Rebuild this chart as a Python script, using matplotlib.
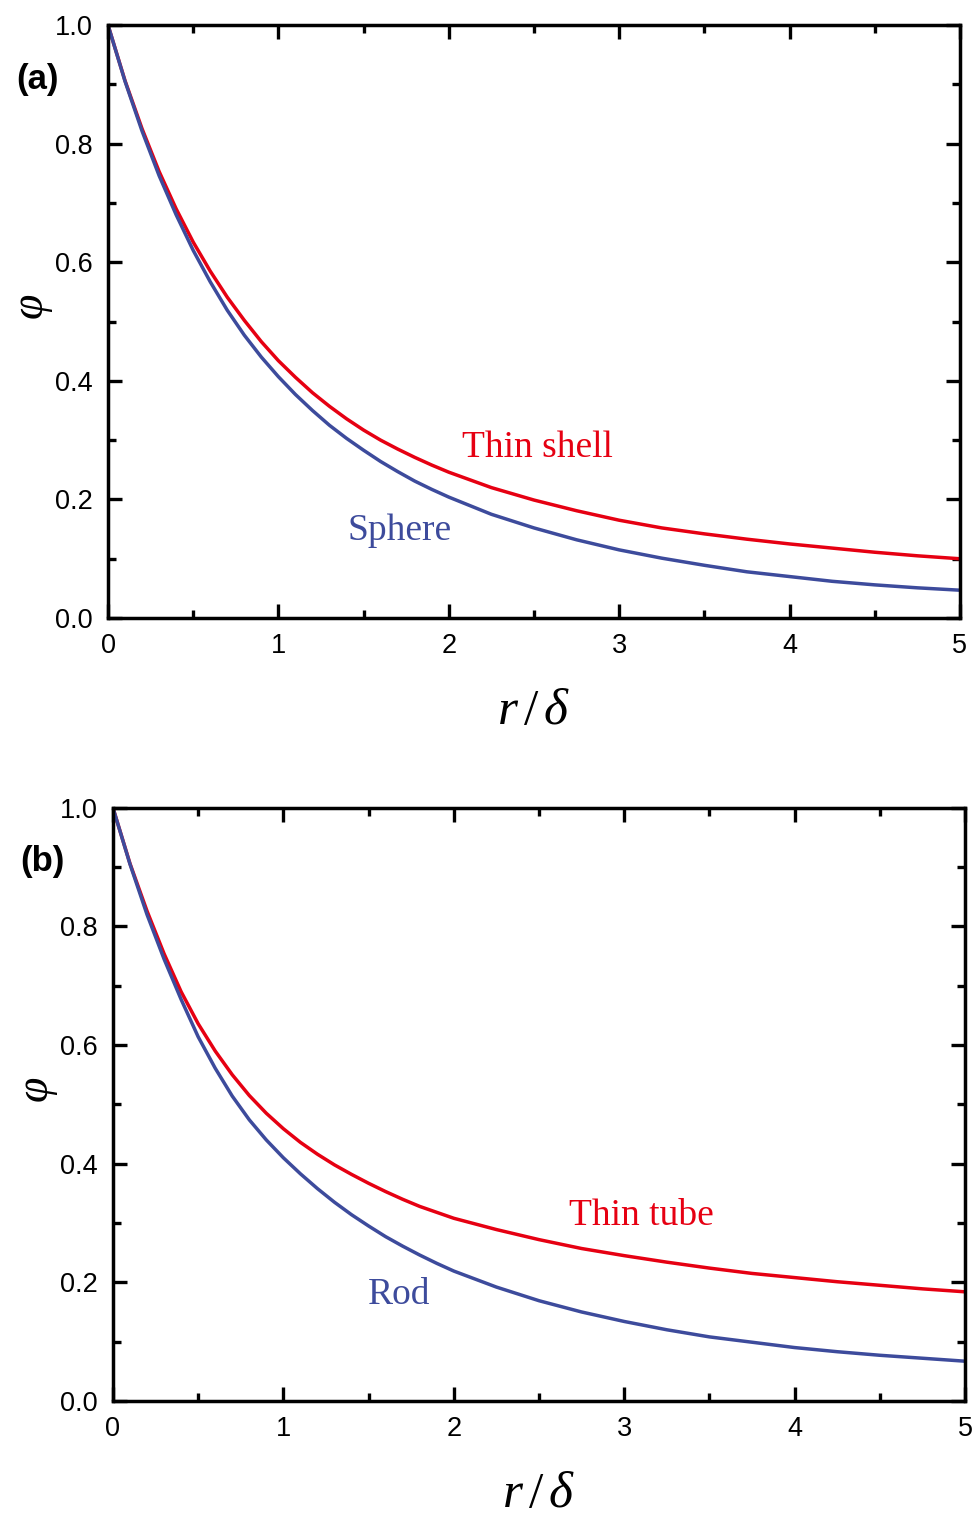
import matplotlib
matplotlib.use("Agg")
import matplotlib.pyplot as plt
from matplotlib.ticker import MultipleLocator, FormatStrFormatter

plt.rcParams['font.family'] = ['Liberation Sans', 'DejaVu Sans']
plt.rcParams['mathtext.fontset'] = 'custom'
plt.rcParams['mathtext.rm'] = 'Liberation Serif'
plt.rcParams['mathtext.it'] = 'Liberation Serif:italic'

# values
r_delta = [0, 0.1, 0.2, 0.3, 0.4, 0.5, 0.6, 0.7, 0.8, 0.9, 1.0, 1.1, 1.2, 1.3,
           1.4, 1.5, 1.6, 1.7, 1.8, 1.9, 2.0, 2.25, 2.5, 2.75, 3.0, 3.25, 3.5,
           3.75, 4.0, 4.25, 4.5, 4.75, 5.0]

# panel (a)
sphere = [1.0, 0.905, 0.821, 0.746, 0.680, 0.620, 0.567, 0.519, 0.477, 0.440,
          0.407, 0.377, 0.350, 0.325, 0.303, 0.283, 0.264, 0.247, 0.231, 0.217,
          0.204, 0.175, 0.152, 0.132, 0.115, 0.101, 0.089, 0.078, 0.070, 0.062,
          0.056, 0.051, 0.047]
thin_shell = [1.0, 0.906, 0.825, 0.753, 0.690, 0.634, 0.585, 0.541, 0.502, 0.466,
              0.434, 0.406, 0.380, 0.357, 0.336, 0.317, 0.300, 0.285, 0.271, 0.258,
              0.246, 0.220, 0.199, 0.181, 0.165, 0.152, 0.142, 0.133, 0.125, 0.118,
              0.111, 0.105, 0.100]

# panel (b)
rod = [1.0, 0.905, 0.820, 0.745, 0.677, 0.614, 0.561, 0.514, 0.474, 0.440,
       0.410, 0.383, 0.358, 0.335, 0.314, 0.295, 0.277, 0.261, 0.246, 0.232,
       0.219, 0.192, 0.169, 0.150, 0.134, 0.120, 0.108, 0.099, 0.090, 0.083,
       0.077, 0.072, 0.067]
thin_tube = [1.0, 0.906, 0.826, 0.754, 0.690, 0.636, 0.590, 0.550, 0.515, 0.485,
             0.459, 0.436, 0.416, 0.398, 0.382, 0.367, 0.353, 0.340, 0.328, 0.318,
             0.308, 0.289, 0.272, 0.257, 0.245, 0.234, 0.224, 0.215, 0.208, 0.201,
             0.195, 0.189, 0.184]

red = '#e60012'
blue = '#3d4b9c'

fig = plt.figure(figsize=(9.73, 15.16), dpi=100)
ax1 = fig.add_axes([0.111, 0.5923, 0.8756, 0.3912])
ax2 = fig.add_axes([0.1161, 0.0759, 0.8757, 0.3912])


def style(ax):
    ax.set_xlim(0, 5)
    ax.set_ylim(0, 1.0)
    ax.xaxis.set_major_locator(MultipleLocator(1))
    ax.xaxis.set_minor_locator(MultipleLocator(0.5))
    ax.yaxis.set_major_locator(MultipleLocator(0.2))
    ax.yaxis.set_minor_locator(MultipleLocator(0.1))
    ax.yaxis.set_major_formatter(FormatStrFormatter('%.1f'))
    ax.tick_params(which='both', direction='in', top=True, right=True,
                   width=2.4, labelsize=19.5)
    ax.tick_params(which='major', length=10, pad=11)
    ax.tick_params(which='minor', length=5.5)
    for s in ax.spines.values():
        s.set_linewidth(2.5)
    ax.set_xlabel(r'$r\,/\,\delta$', fontsize=37, labelpad=19)
    ax.set_ylabel(r'$\varphi$', fontsize=33)
    ax.yaxis.set_label_coords(-0.062, 0.525)


ax1.plot(r_delta, thin_shell, color=red, lw=2.5)
ax1.plot(r_delta, sphere, color=blue, lw=2.5)
style(ax1)
ax1.text(2.52, 0.287, 'Thin shell', color=red, fontsize=27,
         family='Liberation Serif', ha='center', va='center')
ax1.text(1.71, 0.148, 'Sphere', color=blue, fontsize=27,
         family='Liberation Serif', ha='center', va='center')

ax2.plot(r_delta, thin_tube, color=red, lw=2.5)
ax2.plot(r_delta, rod, color=blue, lw=2.5)
style(ax2)
ax2.text(3.10, 0.312, 'Thin tube', color=red, fontsize=27,
         family='Liberation Serif', ha='center', va='center')
ax2.text(1.68, 0.179, 'Rod', color=blue, fontsize=27,
         family='Liberation Serif', ha='center', va='center')

fig.text(37 / 973, 1 - 80 / 1516, '(a)', fontsize=25, fontweight='bold',
         ha='center', va='center')
fig.text(42 / 973, 1 - 862 / 1516, '(b)', fontsize=25, fontweight='bold',
         ha='center', va='center')

fig.savefig('out.png', dpi=100)
